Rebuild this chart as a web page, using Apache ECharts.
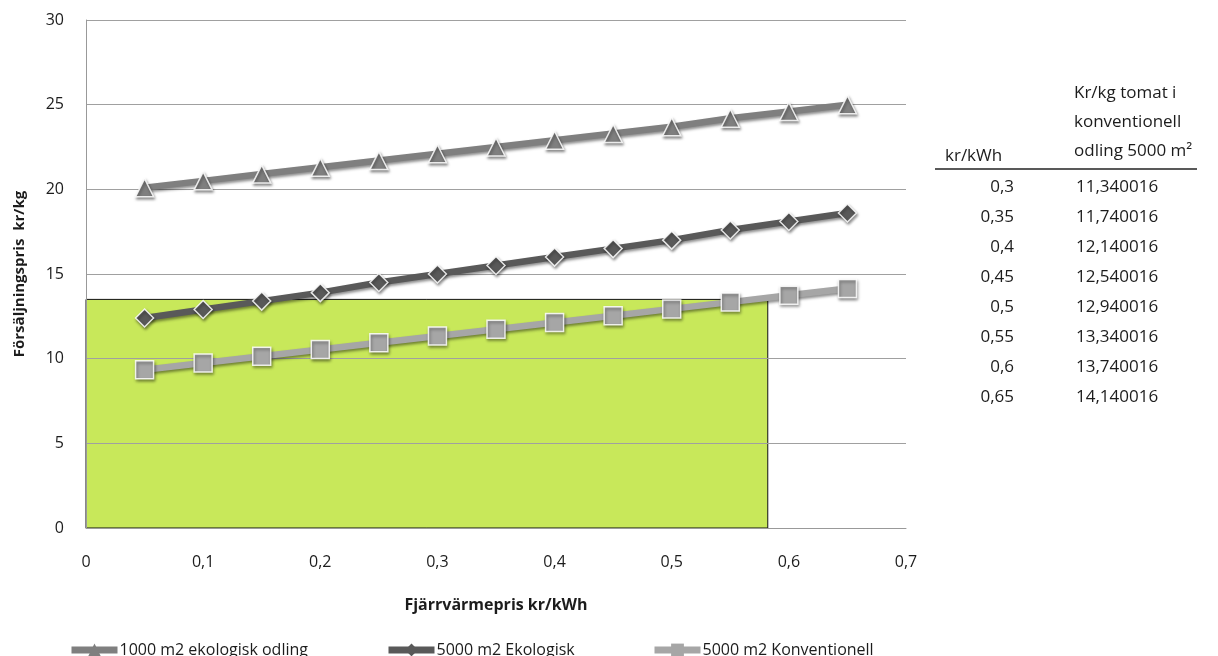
<!DOCTYPE html>
<html><head><meta charset="utf-8">
<script src="https://cdn.jsdelivr.net/npm/echarts@6/dist/echarts.min.js"></script>
<style>html,body{margin:0;padding:0;background:#fff}#c{width:1218px;height:656px}</style>
</head><body><div id="c"></div>
<script>
const prices = [0.05,0.1,0.15,0.2,0.25,0.3,0.35,0.4,0.45,0.5,0.55,0.6,0.65];
const eko1000 = [20.1,20.5,20.9,21.3,21.7,22.1,22.5,22.9,23.3,23.7,24.2,24.6,25.0];
const eko5000 = [12.4,12.9,13.4,13.9,14.5,15.0,15.5,16.0,16.5,17.0,17.6,18.1,18.6];
const konv5000 = [9.34,9.74,10.14,10.54,10.94,11.34,11.74,12.14,12.54,12.94,13.34,13.74,14.14];
const seriesNames = ['1000 m2 ekologisk odling','5000 m2 Ekologisk','5000 m2 Konventionell'];
const greenBoxX = [0, 0.582];
const greenBoxY = [0, 13.5];
const tableKwh = ['0,3','0,35','0,4','0,45','0,5','0,55','0,6','0,65'];
const tableValues = ['11,340016','11,740016','12,140016','12,540016','12,940016','13,340016','13,740016','14,140016'];
const tableHeader1 = 'kr/kWh';
const tableHeader2 = ['Kr/kg tomat i','konventionell','odling 5000 m²'];

const FONT = '"Open Sans", "Noto Sans", sans-serif';
const TXT = '#1c1c1c';
const chart = echarts.init(document.getElementById('c'));
const pairs = a => prices.map((x,i)=>[x,a[i]]);
const shadow = {shadowBlur:3, shadowColor:'rgba(0,0,0,0.45)', shadowOffsetX:1, shadowOffsetY:2};
function lineSeries(name, data, color, symbol, size){
  return {name, type:'line', data:pairs(data), z:5, symbol, symbolSize:size,
    lineStyle:Object.assign({color, width:6.5}, shadow),
    itemStyle:Object.assign({color, borderColor:'rgba(255,255,255,0.85)', borderWidth:1.5}, shadow), animation:false};
}
const graphics = [];
graphics.push({type:'text', x:945, y:156, style:{text:tableHeader1, font:'17px '+FONT, fill:TXT, textVerticalAlign:'middle'}});
tableHeader2.forEach((t,i)=>graphics.push({type:'text', x:1074, y:93+i*29, style:{text:t, font:'17px '+FONT, fill:TXT, textVerticalAlign:'middle'}}));
graphics.push({type:'line', shape:{x1:935,y1:169,x2:1197,y2:169}, style:{stroke:'#222', lineWidth:1.5}});
tableKwh.forEach((t,i)=>{
  graphics.push({type:'text', x:1014, y:187+i*30, style:{text:t, font:'17px '+FONT, fill:TXT, textAlign:'right', textVerticalAlign:'middle'}});
  graphics.push({type:'text', x:1076, y:187+i*30, style:{text:tableValues[i], font:'17px '+FONT, fill:TXT, textVerticalAlign:'middle'}});
});
const legendCommon = {top:637, itemWidth:46, itemHeight:16, itemGap:2,
  lineStyle:{width:7}, itemStyle:{borderWidth:0, shadowBlur:0},
  textStyle:{fontSize:16, color:TXT, padding:[0,0,0,-3]}};
chart.setOption({
  animation:false,
  textStyle:{fontFamily:FONT},
  grid:{left:86, right:312, top:20, bottom:128, containLabel:false},
  xAxis:{type:'value', min:0, max:0.7, interval:0.1, z:3,
    name:'Fjärrvärmepris kr/kWh', nameLocation:'middle', nameGap:69,
    nameTextStyle:{fontWeight:'bold', fontSize:16, color:TXT},
    axisLine:{lineStyle:{color:'#999'}}, axisTick:{show:false}, splitLine:{show:false},
    axisLabel:{margin:26, fontSize:16, color:TXT, formatter:v=>String(Math.round(v*10)/10).replace('.',',')}},
  yAxis:{type:'value', min:0, max:30, interval:5, z:3,
    name:'Försäljningspris  kr/kg', nameLocation:'middle', nameGap:59,
    nameTextStyle:{fontWeight:'bold', fontSize:15, color:TXT},
    axisLine:{show:true, lineStyle:{color:'#999'}}, axisTick:{show:false},
    splitLine:{lineStyle:{color:'#a0a0a0'}},
    axisLabel:{margin:22, fontSize:16, color:TXT}},
  legend:[
    Object.assign({left:63, data:[seriesNames[0]]}, legendCommon),
    Object.assign({left:380, data:[seriesNames[1]]}, legendCommon),
    Object.assign({left:646, data:[seriesNames[2]]}, legendCommon)
  ],
  series:[
    {type:'line', data:[], z:1, silent:true,
      markArea:{silent:true, z:1, itemStyle:{color:'#c8e85a', borderColor:'#111', borderWidth:1},
        data:[[{coord:[greenBoxX[0],greenBoxY[0]]},{coord:[greenBoxX[1],greenBoxY[1]]}]]}},
    lineSeries(seriesNames[0], eko1000, '#7f7f7f', 'triangle', 18),
    lineSeries(seriesNames[1], eko5000, '#595959', 'diamond', 18),
    lineSeries(seriesNames[2], konv5000, '#a6a6a6', 'rect', 18)
  ],
  graphic:graphics
});
</script></body></html>
